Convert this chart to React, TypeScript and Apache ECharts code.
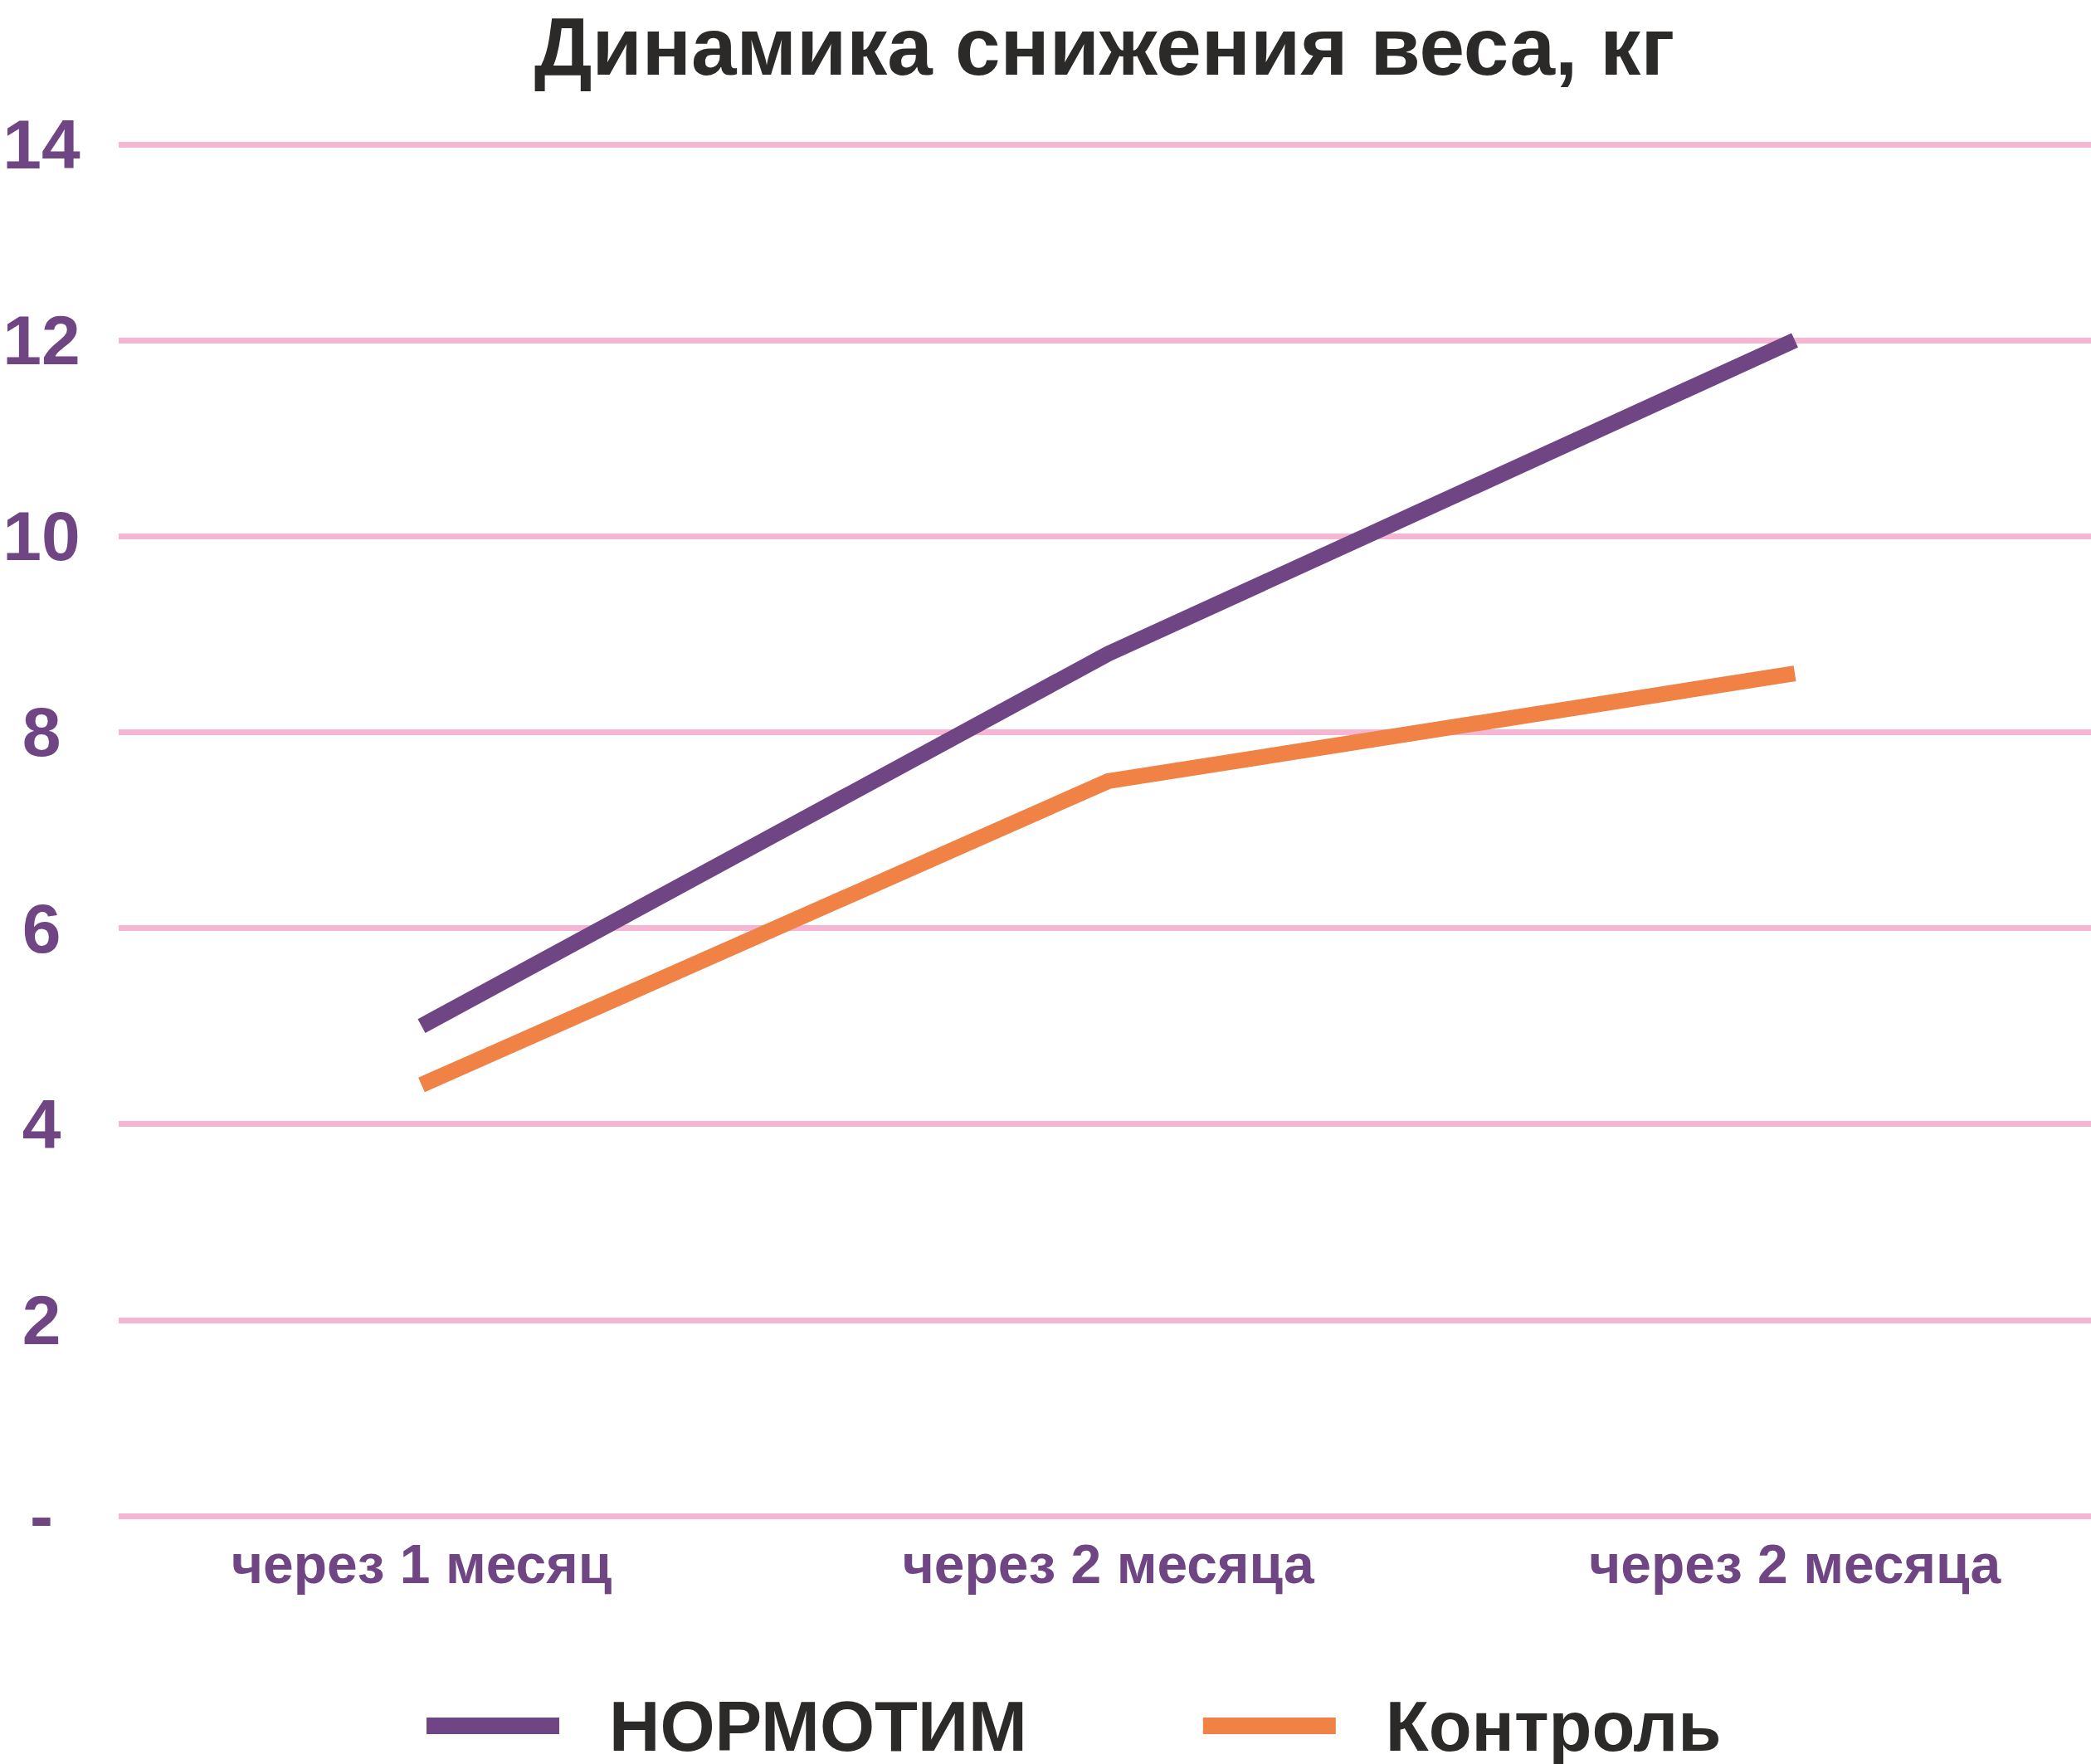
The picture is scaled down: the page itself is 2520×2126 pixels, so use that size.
import React, { useEffect, useRef } from 'react';
import * as echarts from 'echarts';

const chartTitle = 'Динамика снижения веса, кг';
const categories = ['через 1 месяц', 'через 2 месяца', 'через 2 месяца'];
const seriesNames = ['НОРМОТИМ', 'Контроль'];
const normotimValues = [5.0, 8.8, 12.0];
const controlValues = [4.4, 7.5, 8.6];
const yMin = 0;
const yMax = 14;
const yStep = 2;
const zeroLabel = '-';

const PURPLE = '#6F4583';
const ORANGE = '#EF8244';
const PINK = '#F4B6D2';
const DARK = '#2B2A29';
const FONT = '"Liberation Sans", Arial, sans-serif';

export default function App() {
  const ref = useRef<HTMLDivElement>(null);

  useEffect(() => {
    if (!ref.current) return;
    const chart = echarts.init(ref.current, null, { renderer: 'svg' });
    const toPairs = (vals: number[]) => vals.map((v, i) => [i, v]);
    chart.setOption({
      animation: false,
      backgroundColor: '#ffffff',
      title: {
        text: chartTitle,
        left: 1331,
        top: 6,
        padding: 0,
        textAlign: 'center',
        textStyle: {
          fontFamily: FONT,
          fontWeight: 'bold',
          fontSize: 98,
          lineHeight: 100,
          color: DARK,
        },
      },
      legend: {
        data: seriesNames,
        left: 514,
        top: 2035,
        padding: 0,
        icon: 'rect',
        itemWidth: 160,
        itemHeight: 20,
        itemGap: 212,
        textStyle: {
          fontFamily: FONT,
          fontWeight: 'bold',
          fontSize: 85,
          lineHeight: 90,
          color: DARK,
          padding: [0, 0, 0, 55],
        },
      },
      grid: {
        left: 143,
        right: 0,
        top: 174,
        bottom: 299,
        containLabel: false,
      },
      xAxis: {
        type: 'value',
        min: -0.4411,
        max: 2.4314,
        axisLine: { show: false },
        axisTick: { show: false },
        splitLine: { show: false },
        axisLabel: {
          customValues: categories.map((_, i) => i),
          formatter: (v: number) => categories[Math.round(v)] ?? '',
          fontFamily: FONT,
          fontWeight: 'bold',
          fontSize: 66,
          lineHeight: 66,
          color: PURPLE,
          margin: 25,
        },
      },
      yAxis: {
        type: 'value',
        min: yMin,
        max: yMax,
        interval: yStep,
        axisLine: { show: false },
        axisTick: { show: false },
        splitLine: { show: true, lineStyle: { color: PINK, width: 7 } },
        axisLabel: {
          formatter: (v: number) => (v === 0 ? zeroLabel : String(v)),
          fontFamily: FONT,
          fontWeight: 'bold',
          fontSize: 84,
          color: PURPLE,
          align: 'center',
          margin: 93,
        },
      },
      series: [
        {
          name: seriesNames[0],
          type: 'line',
          data: toPairs(normotimValues),
          showSymbol: false,
          symbol: 'none',
          color: PURPLE,
          lineStyle: { color: PURPLE, width: 19, cap: 'butt', join: 'miter' },
        },
        {
          name: seriesNames[1],
          type: 'line',
          data: toPairs(controlValues),
          showSymbol: false,
          symbol: 'none',
          color: ORANGE,
          lineStyle: { color: ORANGE, width: 19, cap: 'butt', join: 'miter' },
        },
      ],
    });
    return () => chart.dispose();
  }, []);

  return (
    <div
      ref={ref}
      style={{ position: 'absolute', left: 0, top: 0, width: 2520, height: 2126 }}
    />
  );
}
